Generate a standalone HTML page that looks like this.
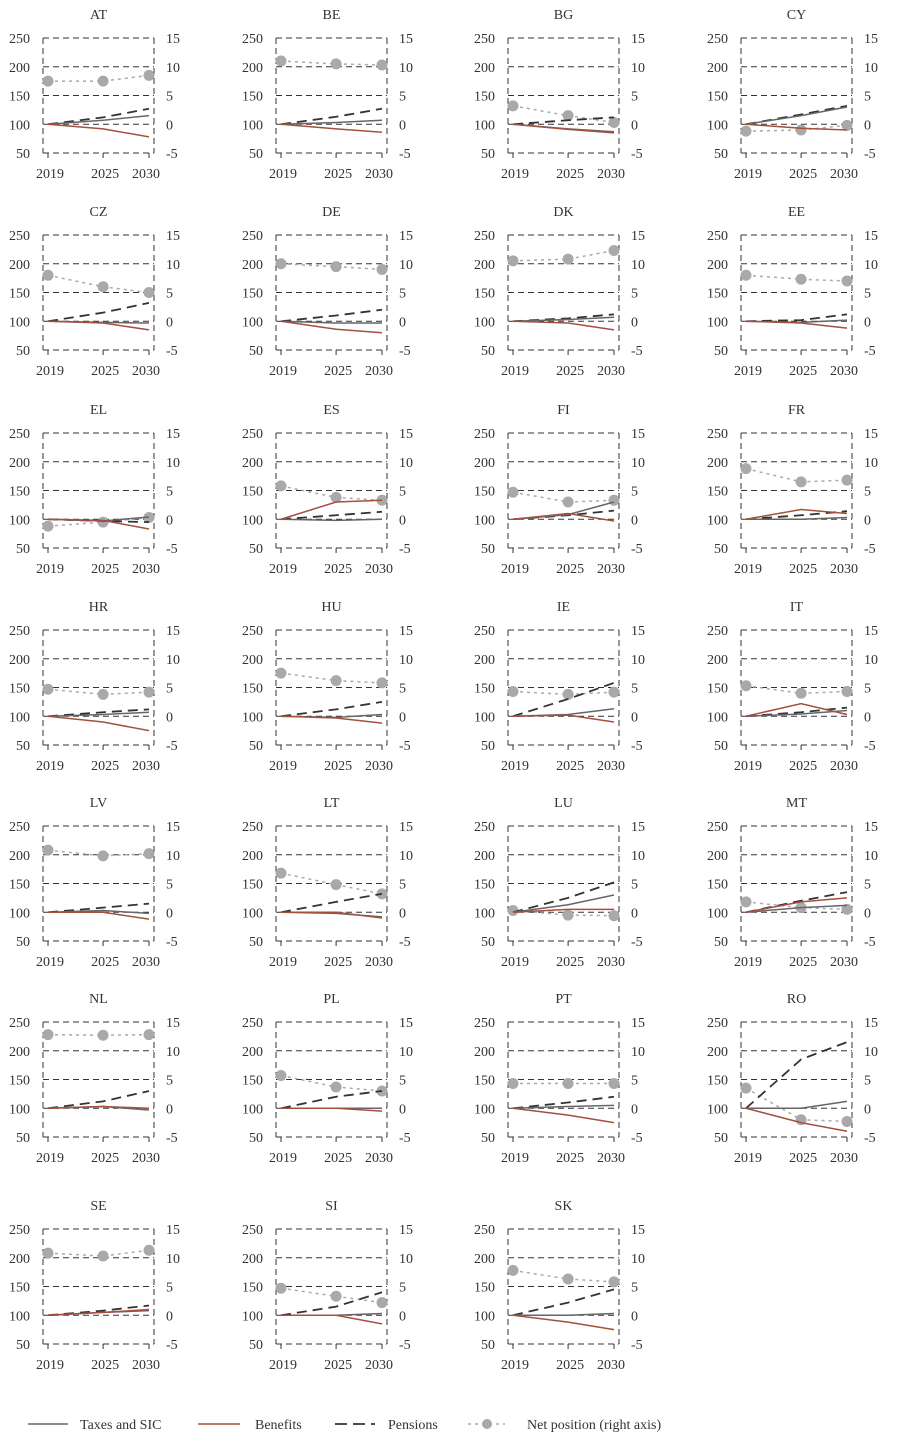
<!DOCTYPE html>
<html><head><meta charset="utf-8"><style>
body{margin:0;background:#fff;}
svg{display:block;font-family:"Liberation Serif",serif;}
</style></head><body>
<svg id="chart" width="900" height="1442" viewBox="0 0 900 1442" xmlns="http://www.w3.org/2000/svg"></svg>
<script>
const countries=["AT","BE","BG","CY","CZ","DE","DK","EE","EL","ES","FI","FR","HR","HU","IE","IT","LV","LT","LU","MT","NL","PL","PT","RO","SE","SI","SK"];
const years=[2019,2025,2030];
const leftTicks=[250,200,150,100,50];
const rightTicks=[15,10,5,0,-5];
const taxes=[[100,107,115],[100,103,107],[100,92,87],[100,115,130],[100,98,97],[100,97,97],[100,103,107],[100,98,102],[100,97,104],[100,98,100],[100,108,130],[100,100,103],[100,103,107],[100,98,103],[100,103,113],[100,104,110],[100,103,98],[100,98,92],[100,113,130],[100,108,112],[100,103,97],[100,100,100],[100,103,105],[100,100,112],[100,105,108],[100,100,103],[100,100,103]];
const benefits=[[100,92,78],[100,92,86],[100,91,85],[100,93,90],[100,97,85],[100,86,80],[100,97,85],[100,97,88],[100,98,83],[100,130,133],[100,110,97],[100,117,110],[100,90,75],[100,97,88],[100,102,90],[100,122,103],[100,100,88],[100,100,90],[100,105,105],[100,118,125],[100,103,100],[100,100,95],[100,88,75],[100,75,60],[100,105,110],[100,100,85],[100,88,75]];
const pensions=[[100,112,127],[100,113,127],[100,107,112],[100,117,132],[100,115,132],[100,110,120],[100,105,112],[100,102,112],[100,97,95],[100,107,113],[100,107,115],[100,107,114],[100,107,112],[100,112,125],[100,130,158],[100,107,115],[100,108,115],[100,118,132],[100,125,152],[100,120,135],[100,112,130],[100,120,130],[100,110,120],[100,185,215],[100,108,117],[100,115,140],[100,122,145]];
const netPos=[[7.5,7.5,8.5],[11,10.5,10.3],[3.2,1.5,0.3],[-1.2,-1,-0.2],[8,6,5],[10,9.5,9],[10.5,10.8,12.3],[8,7.3,7],[-1.2,-0.5,0.3],[5.8,3.8,3.3],[4.7,3,3.3],[8.8,6.5,6.8],[4.7,3.8,4.2],[7.5,6.2,5.8],[4.3,3.8,4.2],[5.3,4,4.3],[10.8,9.8,10.2],[6.8,4.8,3.2],[0.3,-0.5,-0.6],[1.8,0.8,0.5],[12.8,12.7,12.8],[5.7,3.7,3],[4.3,4.3,4.3],[3.5,-2,-2.3],[10.8,10.3,11.3],[4.7,3.3,2.2],[7.8,6.3,5.8]];

const svg=document.getElementById('chart');
const NS="http://www.w3.org/2000/svg";
function mk(tag,attrs,parent){const e=document.createElementNS(NS,tag);for(const k in attrs)e.setAttribute(k,attrs[k]);(parent||svg).appendChild(e);return e;}
const colX=[43,276,508,741];
const rowY=[38,235,433,630,826,1022,1229];
const W=111,H=115;

countries.forEach((c,i)=>{
  const L=colX[i%4],T=rowY[Math.floor(i/4)];
  const g=mk('g',{});
  
  
  const yL=v=>T+(250-v)/200*H;
  const yR=v=>T+(15-v)/20*H;
  const xS=yr=>L+5+(yr-2019)/11*(W-10);
  const t=mk('text',{x:L+W/2,y:T-19,'text-anchor':'middle','font-size':14,fill:'#333'},g);
  t.textContent=c;
  
  
  leftTicks.forEach(v=>{
    mk('line',{x1:L,x2:L+W,y1:yL(v),y2:yL(v),stroke:'#333','stroke-width':1,'stroke-dasharray':'6,4'},g);
    const a=mk('text',{x:L-13,y:yL(v)+5,'text-anchor':'end','font-size':14,fill:'#333'},g);a.textContent=v;
    
    
  });
  rightTicks.forEach(v=>{
    const a=mk('text',{x:L+W+12,y:yR(v)+5,'text-anchor':'start','font-size':14,fill:'#333'},g);a.textContent=v;
    
    
  });
  mk('line',{x1:L,x2:L,y1:T,y2:T+H,stroke:'#333','stroke-dasharray':'6,4'},g);
  mk('line',{x1:L+W,x2:L+W,y1:T,y2:T+H,stroke:'#333','stroke-dasharray':'6,4'},g);
  years.forEach(yr=>{
    mk('line',{x1:xS(yr),x2:xS(yr),y1:T+H,y2:T+H+5,stroke:'#333'},g);
    const a=mk('text',{x:xS(yr)+(yr===2030?-3:2),y:T+H+25,'text-anchor':'middle','font-size':14,fill:'#333'},g);a.textContent=yr;
    
    
  });
  const pts=(arr,f)=>arr.map((v,j)=>xS(years[j])+','+f(v)).join(' ');
  const n=mk('polyline',{points:pts(netPos[i],yR),fill:'none',stroke:'#aaa','stroke-width':1.5,'stroke-dasharray':'3,4'},g);
  
  
  netPos[i].forEach((v,j)=>{
    const d=mk('circle',{cx:xS(years[j]),cy:yR(v),r:5.5,fill:'#a9a9a9'},g);
    
    
  });
  const p=mk('polyline',{points:pts(pensions[i],yL),fill:'none',stroke:'#333','stroke-width':1.8,'stroke-dasharray':'10,6'},g);
  
  
  const tx=mk('polyline',{points:pts(taxes[i],yL),fill:'none',stroke:'#666','stroke-width':1.5},g);
  
  
  const b=mk('polyline',{points:pts(benefits[i],yL),fill:'none',stroke:'#a5503c','stroke-width':1.5},g);
  
  
});

const lg=mk('g',{});


const ly=1424;
function legText(x,s){const e=mk('text',{x:x,y:ly+5,'font-size':14,fill:'#333'},lg);e.textContent=s;
  
  }
mk('line',{x1:28,x2:68,y1:ly,y2:ly,stroke:'#666','stroke-width':1.5},lg);legText(80,'Taxes and SIC');
mk('line',{x1:198,x2:240,y1:ly,y2:ly,stroke:'#a5503c','stroke-width':1.5},lg);legText(255,'Benefits');
mk('line',{x1:335,x2:375,y1:ly,y2:ly,stroke:'#333','stroke-width':1.8,'stroke-dasharray':'12,6'},lg);legText(388,'Pensions');
mk('line',{x1:468,x2:505,y1:ly,y2:ly,stroke:'#aaa','stroke-width':1.5,'stroke-dasharray':'3,4'},lg);
mk('circle',{cx:487,cy:ly,r:5,fill:'#a9a9a9'},lg);legText(527,'Net position (right axis)');
</script>
</body></html>
